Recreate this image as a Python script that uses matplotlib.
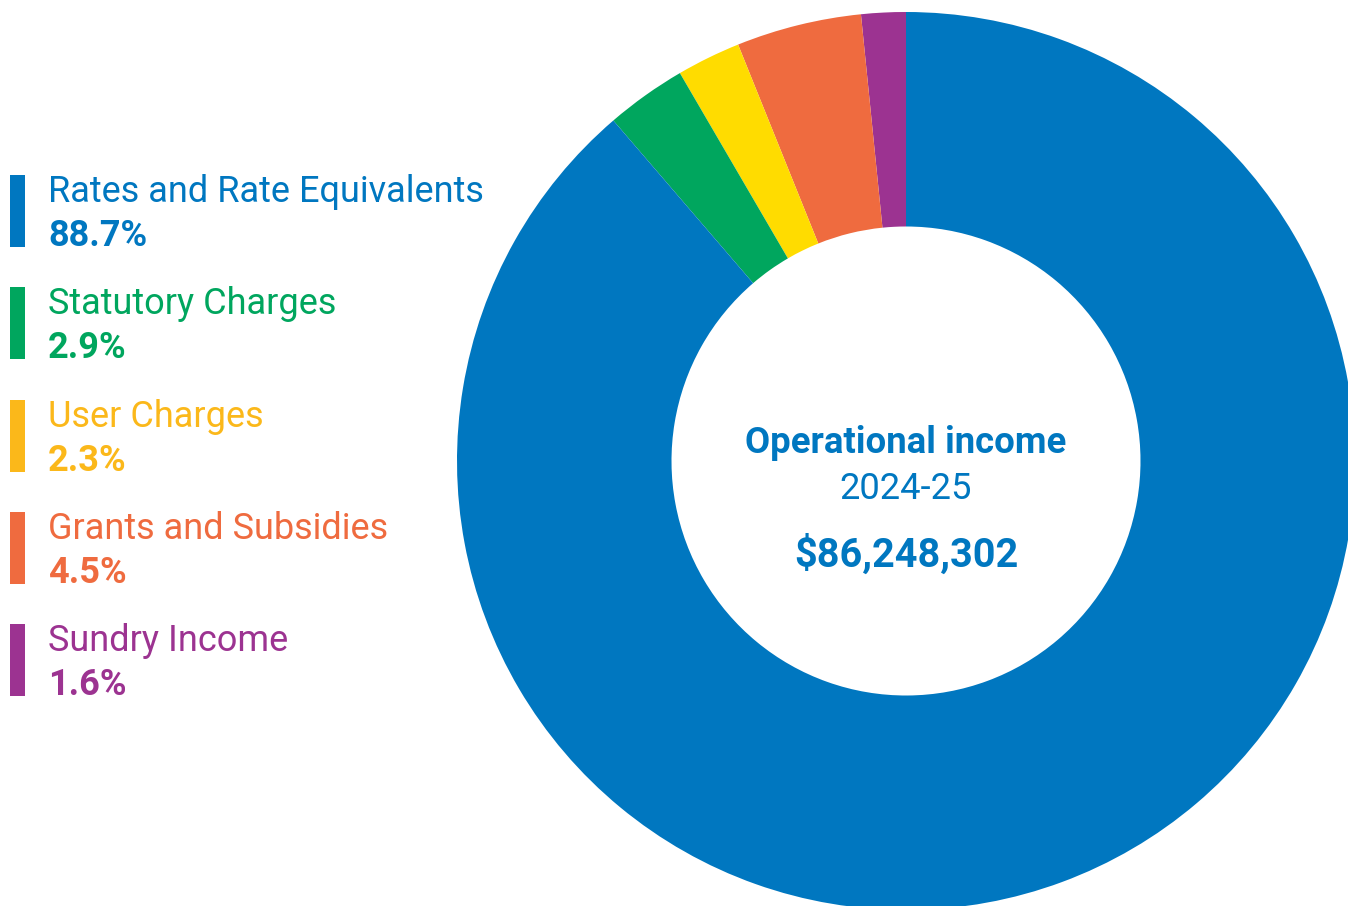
import matplotlib
matplotlib.use("Agg")
import matplotlib.pyplot as plt

# Operational income breakdown, 2024-25
categories = ["Rates and Rate Equivalents", "Statutory Charges", "User Charges",
              "Grants and Subsidies", "Sundry Income"]
shares = [88.7, 2.9, 2.3, 4.5, 1.6]
wedge_colors = ["#0077C0", "#00A65E", "#FFDC00", "#EF6B3F", "#9C3391"]
legend_colors = ["#0077C0", "#00A65E", "#FBB81A", "#EF6B3F", "#9C3391"]
title_text = "Operational income"
period_text = "2024-25"
total_text = "$86,248,302"

W, H = 1348, 906
plt.rcParams["font.family"] = ["Roboto", "DejaVu Sans"]
fig = plt.figure(figsize=(W / 100, H / 100), dpi=100)
fig.patch.set_facecolor("white")


def fx(x):
    return x / W


def fy(y):
    return 1 - y / H


# Donut: centre and outer radius in pixels
cx, cy, R = 906, 461, 449
ax = fig.add_axes([fx(cx - R), fy(cy + R), 2 * R / W, 2 * R / H])
# Drawn counter-clockwise from 12 o'clock: sundry, grants, user, statutory, rates
order = [4, 3, 2, 1, 0]
ax.pie([shares[i] for i in order], colors=[wedge_colors[i] for i in order],
       startangle=90, counterclock=True, radius=1.0,
       wedgeprops=dict(width=1 - 234.5 / R, linewidth=0, edgecolor="none"))
ax.set_xlim(-1, 1)
ax.set_ylim(-1, 1)
ax.set_axis_off()

# Centre labels
blue = "#0077C0"
fig.text(fx(cx), fy(453), title_text, ha="center", va="baseline",
         fontsize=26.3, fontweight="bold", color=blue)
fig.text(fx(cx), fy(499), period_text, ha="center", va="baseline",
         fontsize=26.2, color=blue)
fig.text(fx(cx), fy(567), total_text, ha="center", va="baseline",
         fontsize=28.5, fontweight="bold", color=blue)

# Legend on the left: coloured bar, name and share
step = 112.3
for i, (name, val, col) in enumerate(zip(categories, shares, legend_colors)):
    top = 175 + i * step
    fig.patches.append(plt.Rectangle((fx(10), fy(top + 72)), 15 / W, 72 / H,
                                     transform=fig.transFigure, color=col,
                                     linewidth=0))
    fig.text(fx(48), fy(top + 27), name, ha="left", va="baseline",
             fontsize=26, color=col)
    fig.text(fx(48), fy(top + 71), f"{val:.1f}%", ha="left", va="baseline",
             fontsize=26, fontweight="bold", color=col)

fig.savefig("out.png", dpi=100, facecolor="white")
